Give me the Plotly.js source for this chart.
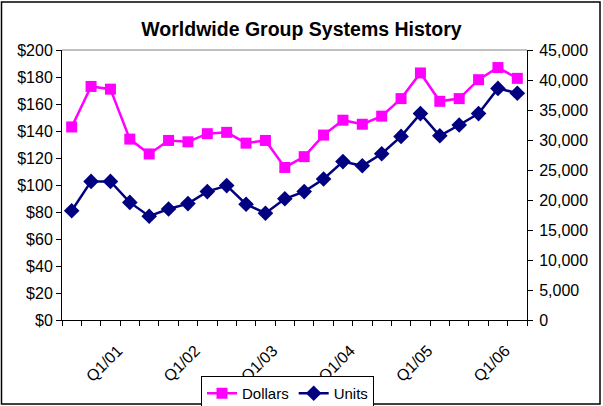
<!DOCTYPE html>
<html>
<head>
<meta charset="utf-8">
<script src="https://cdn.plot.ly/plotly-3.0.1.min.js"></script>
<style>
html,body{margin:0;padding:0;background:#fff;}
#chart{width:603px;height:406px;}
</style>
</head>
<body>
<div id="chart"></div>
<script>
var quarters = ['Q2/00','Q3/00','Q4/00','Q1/01','Q2/01','Q3/01','Q4/01','Q1/02','Q2/02','Q3/02','Q4/02','Q1/03',
                'Q2/03','Q3/03','Q4/03','Q1/04','Q2/04','Q3/04','Q4/04','Q1/05','Q2/05','Q3/05','Q4/05','Q1/06'];
var dollars = [143, 173, 171, 134, 123, 133, 132, 138, 139, 131, 133, 113,
               121, 137, 148, 145, 151, 164, 183, 162, 164, 178, 187, 179];
var units = [18200, 23100, 23100, 19600, 17300, 18500, 19400, 21400, 22400, 19300, 17800, 20200,
             21400, 23500, 26400, 25700, 27700, 30600, 34400, 30700, 32500, 34400, 38600, 37800];
var tickLabels = quarters.map(function(q){ return q.indexOf('Q1') === 0 ? q : ''; });

var FONT = 'Liberation Sans, Arial, sans-serif';
var W = 603, H = 406;
var L = 62, R = 527, T = 50, B = 320;
function px(x){ return (x - L) / (R - L); }
function py(y){ return (B - y) / (B - T); }

var traces = [
  {
    name: 'Dollars', x: quarters, y: dollars, type: 'scatter', mode: 'lines+markers',
    line: {color: '#FF00FF', width: 2.5},
    marker: {symbol: 'square', size: 11, color: '#FF00FF'},
    xaxis: 'x', yaxis: 'y'
  },
  {
    name: 'Units', x: quarters, y: units, type: 'scatter', mode: 'lines+markers',
    line: {color: '#000080', width: 2.5},
    marker: {symbol: 'diamond', size: 12, color: '#000080'},
    xaxis: 'x', yaxis: 'y2'
  }
];

var tickFont = {family: FONT, size: 16, color: '#000'};

var layout = {
  width: W, height: H,
  margin: {l: L, r: W - R, t: T, b: H - B, pad: 0, autoexpand: false},
  paper_bgcolor: '#fff', plot_bgcolor: '#fff',
  showlegend: true,
  title: {
    text: '<b>Worldwide Group Systems History</b>',
    font: {family: FONT, size: 19.5, color: '#000'},
    x: 0.5, xref: 'container', xanchor: 'center',
    y: 1 - 29 / H, yref: 'container', yanchor: 'middle'
  },
  xaxis: {
    type: 'category', categoryorder: 'array', categoryarray: quarters,
    tickvals: quarters, ticktext: tickLabels, tickson: 'boundaries',
    ticks: 'outside', ticklen: 5, tickcolor: '#000', tickwidth: 1,
    showline: true, linecolor: '#000', linewidth: 1,
    showgrid: false, zeroline: false, automargin: false,
    tickangle: -45, tickfont: tickFont,
    ticklabelshift: -12, ticklabelstandoff: 14,
    range: [-0.5, 23.5], fixedrange: true
  },
  xaxis2: {
    overlaying: 'x', anchor: 'y', side: 'bottom',
    range: [-0.5, 23.5], tick0: -0.5, dtick: 1,
    ticks: 'inside', ticklen: 5, tickcolor: '#000',
    showticklabels: false, showgrid: false, zeroline: false, showline: false
  },
  yaxis: {
    range: [0, 200], dtick: 20, tickprefix: '$',
    ticks: 'outside', ticklen: 5, tickcolor: '#000',
    showline: true, linecolor: '#000', linewidth: 1, automargin: false,
    showgrid: false, zeroline: false, tickfont: tickFont
  },
  yaxis2: {
    overlaying: 'y', side: 'right', anchor: 'x',
    range: [0, 45000], dtick: 5000, tickformat: ',d',
    ticks: 'outside', ticklen: 5, tickcolor: '#000',
    showline: true, linecolor: '#000', linewidth: 1, automargin: false,
    showgrid: false, zeroline: false, tickfont: tickFont, ticklabelstandoff: 3
  },
  yaxis3: {
    overlaying: 'y', side: 'left', anchor: 'x',
    range: [0, 200], dtick: 20,
    ticks: 'inside', ticklen: 5, tickcolor: '#000',
    showticklabels: false, showgrid: false, zeroline: false, showline: false
  },
  yaxis4: {
    overlaying: 'y', side: 'right', anchor: 'x',
    range: [0, 45000], dtick: 5000,
    ticks: 'inside', ticklen: 5, tickcolor: '#000',
    showticklabels: false, showgrid: false, zeroline: false, showline: false
  },
  legend: {
    orientation: 'h', x: px(201), xanchor: 'left', y: py(376), yanchor: 'top',
    bordercolor: '#000', borderwidth: 1, bgcolor: '#fff',
    font: {family: FONT, size: 15, color: '#000'},
    itemwidth: 30, tracegroupgap: 0
  },
  shapes: [
    {type: 'line', xref: 'paper', yref: 'paper', x0: 0, x1: 1, y0: 1, y1: 1,
     line: {color: '#808080', width: 1}},
    {type: 'rect', xref: 'paper', yref: 'paper',
     x0: px(1.5), x1: px(600), y0: py(404), y1: py(2),
     line: {color: '#000', width: 1.5}, fillcolor: 'rgba(0,0,0,0)', layer: 'above'}
  ]
};

Plotly.newPlot('chart', traces, layout, {displayModeBar: false, staticPlot: true});
</script>
</body>
</html>
